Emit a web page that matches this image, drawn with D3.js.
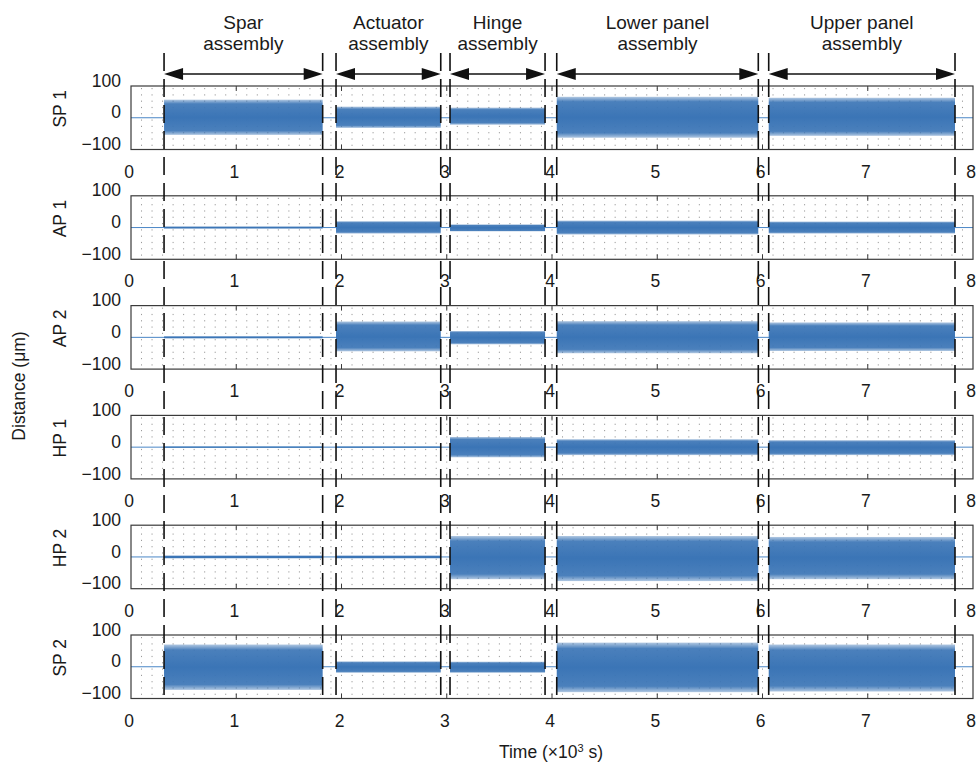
<!DOCTYPE html>
<html>
<head>
<meta charset="utf-8">
<script src="https://cdn.jsdelivr.net/npm/d3@7"></script>
<style>
  body { margin: 0; background: #fff; }
  text { font-family: "Liberation Sans", Arial, sans-serif; fill: #1a1a1a; }
</style>
</head>
<body>
<div id="chart"></div>
<script>
// panels, assemblies and tick values
var panelNames = ["SP 1", "AP 1", "AP 2", "HP 1", "HP 2", "SP 2"];
var assemblyLines = [["Spar", "assembly"], ["Actuator", "assembly"], ["Hinge", "assembly"],
                     ["Lower panel", "assembly"], ["Upper panel", "assembly"]];
var timeTicks = [0, 1, 2, 3, 4, 5, 6, 7, 8];
var distTicks = [-100, 0, 100];

// start / end of each assembly (x10^3 s)
var segStart = [0.314, 1.948, 3.031, 4.045, 6.059];
var segEnd   = [1.821, 2.943, 3.934, 5.960, 7.829];

// signal envelope per panel and assembly (um)
var bandHi = [
  [57, 35, 32, 66, 63],
  [3, 20, 10, 22, 19],
  [3, 50, 20, 51, 47],
  [2, 2, 32, 25, 22],
  [4, 4, 66, 66, 63],
  [70, 17, 16, 76, 70]
];
var bandLo = [
  [-54, -32, -22, -63, -57],
  [-3, -19, -12, -22, -19],
  [-3, -44, -22, -50, -43],
  [-2, -2, -32, -25, -25],
  [-4, -4, -70, -76, -70],
  [-73, -19, -19, -80, -78]
];

var W = 978, H = 763;
var firstTop = 86, panelStep = 109.8, panelH = 63.5;
var blue = "#3b75b6";

var svg = d3.select("#chart")
  .append("svg")
    .attr("width", W)
    .attr("height", H);

var defs = svg.append("defs");
var grad = defs.append("linearGradient")
    .attr("id", "band")
    .attr("x1", 0).attr("y1", 0).attr("x2", 0).attr("y2", 1);
[[0, 0.4], [0.12, 0.92], [0.5, 1], [0.88, 0.92], [1, 0.4]].forEach(function(s) {
  grad.append("stop")
      .attr("offset", s[0])
      .attr("stop-color", blue)
      .attr("stop-opacity", s[1]);
});

var x = d3.scaleLinear()
    .domain([0, 8])
    .range([131, 973]);

var minorX = d3.range(1, 80).map(function(i) { return i / 10; });

panelNames.forEach(function(name, p) {
  var top = firstTop + p * panelStep;
  var y = d3.scaleLinear()
      .domain([-100, 100])
      .range([top + panelH, top]);
  var g = svg.append("g");

  // dotted grid
  g.selectAll(".gx")
    .data(minorX)
    .enter()
    .append("line")
      .attr("x1", d => x(d)).attr("x2", d => x(d))
      .attr("y1", top + 2).attr("y2", top + panelH)
      .attr("stroke", "#9a9a9a")
      .attr("stroke-width", 1)
      .attr("stroke-dasharray", "1.2,5.1");

  // baseline of the signal
  g.append("line")
      .attr("x1", x(0)).attr("x2", x(8))
      .attr("y1", y(0)).attr("y2", y(0))
      .attr("stroke", "#4a86c6")
      .attr("stroke-width", 1);

  // signal bands
  g.selectAll(".band")
    .data(segStart)
    .enter()
    .append("rect")
      .attr("x", (d, i) => x(segStart[i]))
      .attr("width", (d, i) => x(segEnd[i]) - x(segStart[i]))
      .attr("y", (d, i) => y(bandHi[p][i]))
      .attr("height", (d, i) => y(bandLo[p][i]) - y(bandHi[p][i]))
      .attr("fill", (d, i) => (bandHi[p][i] - bandLo[p][i]) > 12 ? "url(#band)" : blue);

  // frame
  g.append("rect")
      .attr("x", x(0)).attr("y", top)
      .attr("width", x(8) - x(0)).attr("height", panelH)
      .attr("fill", "none")
      .attr("stroke", "#3a3a3a")
      .attr("stroke-width", 1.2);

  // inward ticks top and bottom
  var inner = timeTicks.slice(1, 8);
  g.selectAll(".tb")
    .data(inner)
    .enter()
    .append("line")
      .attr("x1", d => x(d)).attr("x2", d => x(d))
      .attr("y1", top + panelH).attr("y2", top + panelH - 5)
      .attr("stroke", "#3a3a3a");
  g.selectAll(".tt")
    .data(inner)
    .enter()
    .append("line")
      .attr("x1", d => x(d)).attr("x2", d => x(d))
      .attr("y1", top).attr("y2", top + 5)
      .attr("stroke", "#3a3a3a");

  // y tick labels
  g.selectAll(".yl")
    .data(distTicks)
    .enter()
    .append("text")
      .attr("x", 121)
      .attr("y", d => y(d) - 5.5)
      .attr("dy", "0.35em")
      .attr("text-anchor", "end")
      .style("font-size", "17.5px")
      .text(d => d < 0 ? "\u2212" + Math.abs(d) : d);

  // x tick labels
  g.selectAll(".xl")
    .data(timeTicks)
    .enter()
    .append("text")
      .attr("x", d => x(d) - 2)
      .attr("y", top + panelH + 22)
      .attr("dy", "0.35em")
      .attr("text-anchor", "middle")
      .style("font-size", "17.5px")
      .text(d => d);

  // panel name
  g.append("text")
      .attr("transform", "translate(60," + (top + panelH / 2 - 9) + ") rotate(-90)")
      .attr("dy", "0.35em")
      .attr("text-anchor", "middle")
      .style("font-size", "17.5px")
      .text(name);
});

// dashed assembly boundaries
var bounds = segStart.concat(segEnd);
var lastBottom = firstTop + 5 * panelStep + panelH;
svg.append("g")
  .selectAll("line")
  .data(bounds)
  .enter()
  .append("line")
    .attr("x1", d => x(d)).attr("x2", d => x(d))
    .attr("y1", 53).attr("y2", lastBottom)
    .attr("stroke", "#111")
    .attr("stroke-width", 1.6)
    .attr("stroke-dasharray", "18,8");

// arrows and assembly names
var arrowY = 74, headL = 19, headW = 6;
var hdr = svg.append("g");
assemblyLines.forEach(function(lines, i) {
  var x0 = x(segStart[i]), x1 = x(segEnd[i]);
  hdr.append("line")
      .attr("x1", x0 + headL - 2).attr("x2", x1 - headL + 2)
      .attr("y1", arrowY).attr("y2", arrowY)
      .attr("stroke", "#111")
      .attr("stroke-width", 1.3);
  hdr.append("path")
      .attr("d", "M" + x0 + "," + arrowY + "L" + (x0 + headL) + "," + (arrowY - headW) +
                 "L" + (x0 + headL) + "," + (arrowY + headW) + "Z")
      .attr("fill", "#111");
  hdr.append("path")
      .attr("d", "M" + x1 + "," + arrowY + "L" + (x1 - headL) + "," + (arrowY - headW) +
                 "L" + (x1 - headL) + "," + (arrowY + headW) + "Z")
      .attr("fill", "#111");
  lines.forEach(function(t, k) {
    hdr.append("text")
        .attr("x", (x0 + x1) / 2)
        .attr("y", 22 + k * 21)
        .attr("dy", "0.35em")
        .attr("text-anchor", "middle")
        .style("font-size", "19px")
        .text(t);
  });
});

// axis titles
svg.append("text")
    .attr("transform", "translate(19,386) rotate(-90)")
    .attr("dy", "0.35em")
    .attr("text-anchor", "middle")
    .style("font-size", "17.5px")
    .text("Distance (\u03bcm)");

var tt = svg.append("text")
    .attr("x", 551)
    .attr("y", 758)
    .attr("text-anchor", "middle")
    .style("font-size", "17.5px");
tt.append("tspan").text("Time (\u00d710");
tt.append("tspan").attr("dy", -6).style("font-size", "11px").text("3");
tt.append("tspan").attr("dy", 6).text(" s)");
</script>
</body>
</html>
